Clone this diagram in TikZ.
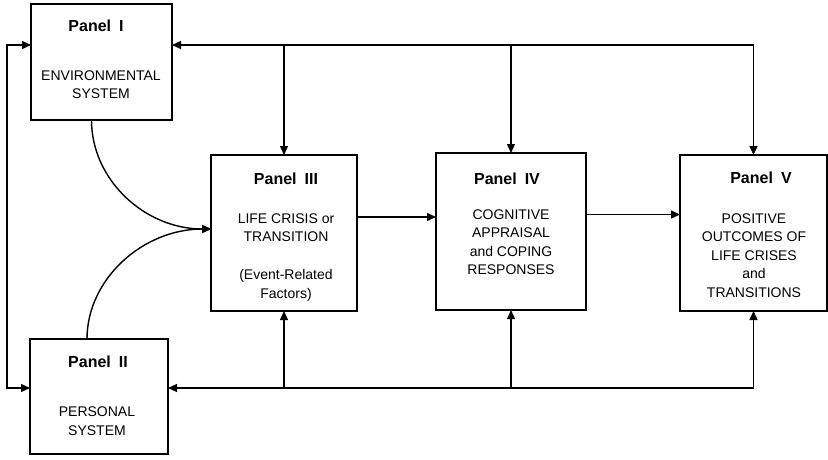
\documentclass[tikz,border=0pt]{standalone}
\usepackage{fontspec}
\setmainfont{Liberation Sans}
\usetikzlibrary{arrows.meta,positioning}

\tikzset{
  ptip/.tip={Triangle[length=9pt,width=8pt]},
  panel/.style={draw,line width=1.5pt,outer sep=0pt,inner sep=0pt},
  ptitle/.style={font=\fontsize{16}{19}\selectfont\bfseries,anchor=base,inner sep=0pt},
  pbody/.style={font=\fontsize{14}{18.5}\selectfont,align=center,anchor=base,inner sep=0pt},
  link/.style={line width=1.4pt,-ptip}
}

\begin{document}
\begin{tikzpicture}[x=1pt,y=-1pt]
        \useasboundingbox (0,0) rectangle (828,460);
        \node[panel,minimum width=141pt,minimum height=116pt] (p1) at (101.5,62) {};
        \node[panel,minimum width=138pt,minimum height=115pt] (p2) at (99,396.5) {};
        \node[panel,minimum width=146pt,minimum height=156pt] (p3) at (284,233) {};
        \node[panel,minimum width=150pt,minimum height=157pt] (p4) at (511,231.5) {};
        \node[panel,minimum width=147pt,minimum height=156pt] (p5) at (753.5,233) {};
        \node[ptitle] (t1) at (96,32) {Panel\enspace I};
        \node[pbody] (b1) at (101,99) {ENVIRONMENTAL\\SYSTEM};
        \node[ptitle] (t2) at (98,367) {Panel\enspace II};
        \node[pbody] (b2) at (97,435) {PERSONAL\\SYSTEM};
        \node[ptitle] (t3) at (286,184) {Panel\enspace III};
        \node[pbody] (b3) at (286,298) {LIFE CRISIS or\\TRANSITION\\[19.5pt](Event-Related\\Factors)};
        \node[ptitle] (t4) at (507,184) {Panel\enspace IV};
        \node[pbody] (b4) at (511,274.5) {COGNITIVE\\APPRAISAL\\and COPING\\RESPONSES};
        \node[ptitle] (t5) at (761,183) {Panel\enspace V};
        \node[pbody] (b5) at (754,297) {POSITIVE\\OUTCOMES OF\\LIFE CRISES\\and\\TRANSITIONS};
        \coordinate (upper) at (752,45);
        \coordinate (lower) at (752,388);
        \coordinate (lx) at (7,0);
        \draw[link] (p5.north |- upper) -- (p1.east |- upper);
        \foreach \p in {p3,p4,p5}{\draw[link] (\p.north |- upper) -- (\p.north);}
        \draw[link] (p5.south |- lower) -- (p2.east |- lower);
        \foreach \p in {p3,p4,p5}{\draw[link] (\p.south |- lower) -- (\p.south);}
        \draw[link,ptip-ptip] (p1.west |- upper) -- (lx |- upper) -- (lx |- lower) -- (p2.west |- lower);
        \coordinate (meet) at ([yshift=4pt]p3.west);
        \draw[link] ([xshift=-10pt]p1.south) .. controls (91.5,180) and (145,229) .. (meet);
        \draw[link] ([xshift=-12pt]p2.north) .. controls (87,279) and (143,229) .. (meet);
        \coordinate (a34) at ([yshift=16pt]p3.east);
        \coordinate (a45) at ([yshift=17pt]p4.east);
        \draw[link] (a34) -- (a34 -| p4.west);
        \draw[link] (a45) -- (a45 -| p5.west);
      \end{tikzpicture}
\end{document}
